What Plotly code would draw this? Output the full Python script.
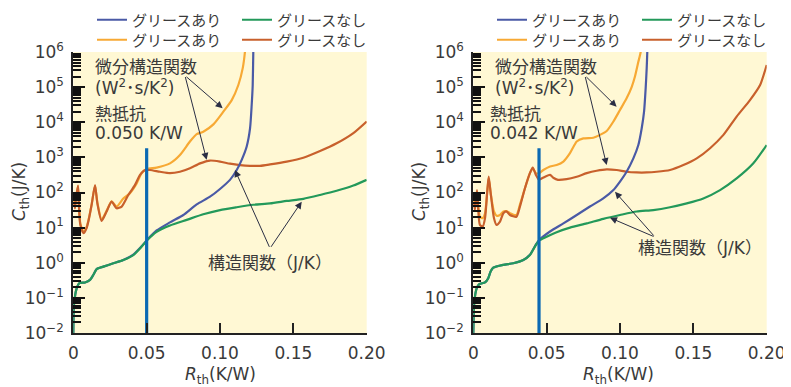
import plotly.graph_objects as go

# ---------------- data ----------------
# Left panel (thermal resistance 0.050 K/W)
L_green_x = [0, 0.00045, 0.0023, 0.0041, 0.008, 0.0114, 0.0136, 0.0159, 0.0205, 0.0273, 0.0341,
             0.0409, 0.0466, 0.0505, 0.0568, 0.0659, 0.0773, 0.0886, 0.1, 0.1114, 0.1227, 0.1341,
             0.1455, 0.1568, 0.1682, 0.1795, 0.1909, 0.2]
L_green_y = [0.01, 0.0631, 0.186, 0.263, 0.275, 0.324, 0.447, 0.661, 0.776, 0.966, 1.20,
             1.66, 2.88, 4.47, 7.6, 11.5, 16.6, 24.0, 31.6, 38.0, 44.7, 49.0,
             57.5, 66.1, 85.1, 112, 158, 229]

L_blue_x = [0, 0.00045, 0.0023, 0.0041, 0.008, 0.0114, 0.0136, 0.0159, 0.0205, 0.0273, 0.0341,
            0.0409, 0.0466, 0.0505, 0.0568, 0.0659, 0.075, 0.0841, 0.0932, 0.1, 0.1068, 0.1114,
            0.1148, 0.1182, 0.1205, 0.1216, 0.1223, 0.1227, 0.1229]
L_blue_y = [0.01, 0.0631, 0.186, 0.263, 0.275, 0.324, 0.447, 0.661, 0.776, 0.966, 1.20,
            1.70, 2.95, 4.57, 8.3, 14.1, 22.9, 45.7, 75.9, 126, 229, 437,
            851, 2040, 6760, 30900, 115000, 1000000, 2000000]

L_red_x = [0.0003, 0.0011, 0.0018, 0.0032, 0.0038, 0.0048, 0.007, 0.009, 0.0105, 0.0125, 0.0148,
           0.0164, 0.0193, 0.0227, 0.0261, 0.0295, 0.033, 0.0375, 0.042, 0.0455, 0.0489, 0.0523,
           0.0591, 0.0659, 0.0727, 0.0795, 0.0864, 0.0932, 0.1, 0.1068, 0.1136, 0.1205, 0.1273,
           0.1341, 0.1455, 0.1568, 0.1682, 0.1795, 0.1909, 0.2]
L_red_y = [55.0, 35.5, 67.6, 158, 45.0, 12.0, 6.92, 9.5, 16.6, 44.7, 162,
           49.0, 15.5, 28.8, 55.0, 35.5, 39.8, 85.1, 162, 316, 437, 437,
           389, 355, 389, 490, 676, 813, 759, 661, 603, 575, 575,
           631, 759, 977, 1510, 2510, 4900, 10500]

L_orange_x = [0.0003, 0.0011, 0.0018, 0.0032, 0.0038, 0.0048, 0.007, 0.009, 0.0105, 0.0125, 0.0148,
              0.0164, 0.0193, 0.0227, 0.0261, 0.0295, 0.0341, 0.0386, 0.0432, 0.0466, 0.05, 0.0568,
              0.0659, 0.0727, 0.0795, 0.0841, 0.0886, 0.0955, 0.1023, 0.108, 0.1125, 0.1155,
              0.117, 0.1175]
L_orange_y = [58.0, 38.0, 70.0, 150, 48.0, 13.0, 7.6, 10.2, 17.5, 46.0, 155,
              52.0, 17.0, 30.0, 56.0, 39.8, 67.6, 95.5, 182, 355, 468, 513,
              676, 1170, 2820, 4570, 5370, 8710, 20000, 42700, 115000, 347000,
              1000000, 2000000]

# Right panel (thermal resistance 0.042 K/W)
R_green_x = [0, 0.0007, 0.0023, 0.0041, 0.008, 0.0102, 0.0118, 0.0136, 0.0205, 0.0273, 0.0341,
             0.0386, 0.042, 0.0448, 0.05, 0.0568, 0.0659, 0.0773, 0.0886, 0.1, 0.1114, 0.1227,
             0.1341, 0.1455, 0.1568, 0.1682, 0.1795, 0.1909, 0.2]
R_green_y = [0.01, 0.0776, 0.186, 0.245, 0.275, 0.363, 0.562, 0.724, 0.871, 0.966, 1.20,
             1.66, 2.88, 4.27, 5.50, 7.41, 10.0, 13.2, 17.8, 22.9, 28.8, 31.6,
             38.0, 49.0, 67.6, 117, 251, 676, 2240]

R_blue_x = [0, 0.0007, 0.0023, 0.0041, 0.008, 0.0102, 0.0118, 0.0136, 0.0205, 0.0273, 0.0341,
            0.0386, 0.042, 0.0448, 0.0523, 0.0614, 0.0705, 0.0795, 0.0886, 0.0955, 0.1, 0.1045,
            0.1091, 0.1125, 0.1148, 0.1164, 0.1175, 0.1182, 0.1186, 0.1188]
R_blue_y = [0.01, 0.0776, 0.186, 0.245, 0.275, 0.363, 0.562, 0.724, 0.871, 0.966, 1.20,
            1.70, 2.95, 4.37, 7.76, 13.2, 22.9, 39.8, 67.6, 117, 204, 389,
            933, 2240, 6760, 20000, 93300, 347000, 1000000, 2000000]

R_red_x = [0.0003, 0.0011, 0.0025, 0.0033, 0.0045, 0.0064, 0.008, 0.0095, 0.0105, 0.012, 0.0141,
           0.0159, 0.0182, 0.0205, 0.0227, 0.025, 0.0294, 0.0318, 0.0352, 0.0386, 0.0405, 0.0427,
           0.0448, 0.0466, 0.0489, 0.0523, 0.0545, 0.0577, 0.0636, 0.0705, 0.0773, 0.0841,
           0.0909, 0.0977, 0.1045, 0.1114, 0.1182, 0.125, 0.1341, 0.1432, 0.1523, 0.1614,
           0.1705, 0.1795, 0.1886, 0.1955, 0.2]
R_red_y = [55.0, 31.6, 117, 35.5, 12.0, 10.7, 18.6, 105, 282, 85.1, 18.6,
           12.0, 14.8, 25.7, 28.8, 22.9, 20.4, 40.0, 132, 355, 513, 316,
           229, 251, 282, 316, 263, 229, 240, 282, 355, 417,
           457, 437, 389, 372, 372, 389, 437, 603, 933, 1820,
           4370, 14500, 42700, 115000, 427000]

R_orange_x = [0.0003, 0.0011, 0.0025, 0.0033, 0.0045, 0.0064, 0.008, 0.0095, 0.0105, 0.012, 0.0141,
              0.0159, 0.0182, 0.0205, 0.0227, 0.025, 0.0294, 0.0318, 0.0352, 0.0386, 0.0405, 0.0427,
              0.0448, 0.0477, 0.0523, 0.0568, 0.0614, 0.0659, 0.0705, 0.075, 0.0818, 0.0864,
              0.0909, 0.0955, 0.1, 0.1045, 0.108, 0.1102, 0.1125, 0.1141, 0.1146]
R_orange_y = [61.7, 35.5, 105, 44.7, 20.4, 18.6, 25.7, 105, 251, 85.1, 28.8,
              21.9, 22.9, 28.8, 29.5, 25.7, 22.9, 45.0, 132, 355, 490, 355,
              355, 437, 550, 603, 759, 1320, 2820, 3470, 3630, 4370,
              5620, 10500, 22400, 47900, 102000, 200000, 525000, 1000000, 2000000]

# Thermal-resistance markers (vertical lines)
marker_x = [0.050, 0.0448]
marker_y = [0.01, 1820]

y_tickvals = [1e-2, 1e-1, 1e0, 1e1, 1e2, 1e3, 1e4, 1e5, 1e6]
y_ticktext = ["10<sup>−2</sup>", "10<sup>−1</sup>", "10<sup>0</sup>", "10<sup>1</sup>",
              "10<sup>2</sup>", "10<sup>3</sup>", "10<sup>4</sup>", "10<sup>5</sup>", "10<sup>6</sup>"]
x_tickvals = [0, 0.05, 0.10, 0.15, 0.20]
x_ticktext = ["0", "0.05", "0.10", "0.15", "0.20"]

name_with = "グリースあり"
name_without = "グリースなし"

# ---------------- styling ----------------
C_BLUE = "#4A5AA6"
C_GREEN = "#23995A"
C_ORANGE = "#F7A934"
C_RED = "#C8602C"
C_MARK = "#0B69B3"
TXT = "#3a3a3a"
FONT = "DejaVu Sans, Noto Sans CJK JP"
CJK = "Noto Sans CJK JP"

fig = go.Figure()

panels = [
    dict(xa="x", ya="y", green=(L_green_x, L_green_y), blue=(L_blue_x, L_blue_y),
         red=(L_red_x, L_red_y), orange=(L_orange_x, L_orange_y), mx=marker_x[0],
         lg1="legend", lg2="legend2"),
    dict(xa="x2", ya="y2", green=(R_green_x, R_green_y), blue=(R_blue_x, R_blue_y),
         red=(R_red_x, R_red_y), orange=(R_orange_x, R_orange_y), mx=marker_x[1],
         lg1="legend3", lg2="legend4"),
]

LW = 2.2
for p in panels:
    fig.add_trace(go.Scatter(x=p["orange"][0], y=p["orange"][1], mode="lines", name=name_with,
                             line=dict(color=C_ORANGE, width=LW, shape="spline", smoothing=0.6),
                             xaxis=p["xa"], yaxis=p["ya"], legend=p["lg2"], legendrank=3))
    fig.add_trace(go.Scatter(x=p["red"][0], y=p["red"][1], mode="lines", name=name_without,
                             line=dict(color=C_RED, width=LW, shape="spline", smoothing=0.6),
                             xaxis=p["xa"], yaxis=p["ya"], legend=p["lg2"], legendrank=4))
    fig.add_trace(go.Scatter(x=p["blue"][0], y=p["blue"][1], mode="lines", name=name_with,
                             line=dict(color=C_BLUE, width=LW, shape="spline", smoothing=0.6),
                             xaxis=p["xa"], yaxis=p["ya"], legend=p["lg1"], legendrank=1))
    fig.add_trace(go.Scatter(x=p["green"][0], y=p["green"][1], mode="lines", name=name_without,
                             line=dict(color=C_GREEN, width=LW, shape="spline", smoothing=0.6),
                             xaxis=p["xa"], yaxis=p["ya"], legend=p["lg1"], legendrank=2))
    fig.add_trace(go.Scatter(x=[p["mx"], p["mx"]], y=marker_y, mode="lines", showlegend=False,
                             line=dict(color=C_MARK, width=3.2), hoverinfo="skip",
                             xaxis=p["xa"], yaxis=p["ya"]))

# the page has an 8px body margin: figure pixel = page pixel - 8
OFF = 8
W, H = 791, 387

def fx(px):
    return (px - OFF) / W

def fy(py):
    return 1 - (py - OFF) / H

xdom_l = [fx(73.3), fx(366.7)]
xdom_r = [fx(473.3), fx(766.7)]
ydom = [fy(333), fy(52)]

minor_vals = [m * 10 ** e for e in range(-2, 6) for m in range(2, 10)]

def xaxis_cfg(dom, anchor):
    return dict(domain=dom, anchor=anchor, range=[0, 0.2], tickmode="array",
                tickvals=x_tickvals, ticktext=x_ticktext, ticks="inside", ticklen=10,
                tickwidth=1.5, tickcolor="#222", showline=True, linecolor="#222", linewidth=2,
                showgrid=False, zeroline=False, ticklabelstandoff=4, automargin=False,
                tickfont=dict(family=FONT, size=17, color=TXT))

def yaxis_cfg(anchor):
    return dict(domain=ydom, anchor=anchor, type="log", range=[-2, 6], tickmode="array",
                tickvals=y_tickvals, ticktext=y_ticktext, ticks="inside", ticklen=12,
                tickwidth=2, tickcolor="#111", showline=True, linecolor="#222", linewidth=2,
                showgrid=False, zeroline=False, ticklabelstandoff=4, automargin=False,
                minor=dict(tickmode="array", tickvals=minor_vals, ticks="inside", ticklen=8,
                           tickwidth=2, tickcolor="#111", showgrid=False),
                tickfont=dict(family=FONT, size=17, color=TXT))

leg_common = dict(orientation="h", xanchor="left", yanchor="middle", bgcolor="rgba(0,0,0,0)",
                  font=dict(family=CJK, size=15, color=TXT), entrywidthmode="pixels",
                  entrywidth=100, itemwidth=30, traceorder="normal")

fig.update_layout(
    width=W, height=H, margin=dict(l=0, r=0, t=0, b=0, autoexpand=False), paper_bgcolor="white",
    plot_bgcolor="#FFF8D4", font=dict(family=FONT, color=TXT),
    xaxis=xaxis_cfg(xdom_l, "y"), yaxis=yaxis_cfg("x"),
    xaxis2=xaxis_cfg(xdom_r, "y2"), yaxis2=yaxis_cfg("x2"),
    legend=dict(x=fx(92), y=fy(20), **leg_common),
    legend2=dict(x=fx(92), y=fy(40), **leg_common),
    legend3=dict(x=fx(492), y=fy(20), **leg_common),
    legend4=dict(x=fx(492), y=fy(40), **leg_common),
    showlegend=True,
)

ann = []
def txt(px, py, s, anchor="left", size=17, angle=0):
    ann.append(dict(x=fx(px), y=fy(py), xref="paper", yref="paper", text=s,
                    showarrow=False, xanchor=anchor, yanchor="middle", textangle=angle,
                    font=dict(family=FONT, size=size, color=TXT)))

def arrow(xr, yr, hx, hly, tx, tly):
    ann.append(dict(x=hx, y=hly, ax=tx, ay=tly, xref=xr, yref=yr, axref=xr, ayref=yr, text="",
                    showarrow=True, arrowhead=2, arrowsize=1.4, arrowwidth=1,
                    arrowcolor="#2a2e44", standoff=0, startstandoff=0))

for off, rlabel in [(0, "0.050 K/W"), (400, "0.042 K/W")]:
    base = 93 if off == 0 else 493
    txt(base, 67, "微分構造関数")
    txt(base, 87, "(W<sup>2</sup>･s/K<sup>2</sup>)")
    tb = 93 if off == 0 else 488
    txt(tb, 114, "熱抵抗")
    txt(tb, 133, rlabel)
    txt(off + 20, 192, "<i>C</i><sub>th</sub>(J/K)", anchor="center", angle=-90)
    txt(off + 220 - (2 if off else 0), 375, "<i>R</i><sub>th</sub>(K/W)", anchor="center")

txt(270, 263, "構造関数（J/K）", anchor="center")
txt(700, 248, "構造関数（J/K）", anchor="center")

# left arrows
arrow("x", "y", 0.1018, 4.40, 0.0761, 5.33)
arrow("x", "y", 0.0909, 2.93, 0.0761, 5.33)
arrow("x", "y", 0.1102, 2.64, 0.1341, 0.41)
arrow("x", "y", 0.1557, 1.74, 0.1341, 0.41)
# right arrows
arrow("x2", "y2", 0.0977, 4.44, 0.0761, 5.33)
arrow("x2", "y2", 0.0909, 2.78, 0.0761, 5.33)
arrow("x2", "y2", 0.0966, 2.02, 0.1239, 0.73)
arrow("x2", "y2", 0.0932, 1.28, 0.1239, 0.73)

fig.update_layout(annotations=ann)

fig.write_html("out.html")
